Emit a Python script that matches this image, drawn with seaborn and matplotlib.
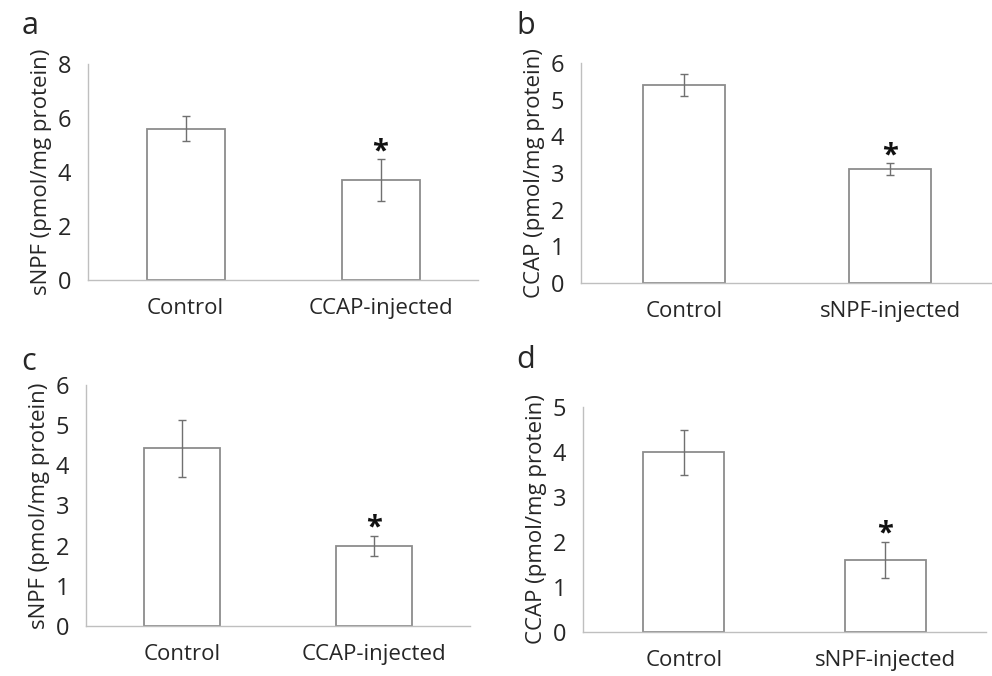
import matplotlib
matplotlib.use("Agg")
import matplotlib.pyplot as plt
import pandas as pd
import seaborn as sns

sns.set_style("white")
plt.rcParams["font.family"] = ["Open Sans", "DejaVu Sans"]

# valori
groups_a = ["Control", "CCAP-injected"]
groups_b = ["Control", "sNPF-injected"]

snpf_a = [5.6, 3.7]
snpf_a_err = [0.47, 0.78]

ccap_b = [5.4, 3.1]
ccap_b_err = [0.3, 0.16]

snpf_c = [4.42, 2.0]
snpf_c_err = [0.7, 0.25]

ccap_d = [4.0, 1.6]
ccap_d_err = [0.5, 0.41]

ylab_snpf = "sNPF (pmol/mg protein)"
ylab_ccap = "CCAP (pmol/mg protein)"

panels = [
    # lettera, gruppi, valori, errori, ylabel, ymax, passo, assi in pixel (x0, x1, ytop, ybottom), lettera in pixel
    ("a", groups_a, snpf_a, snpf_a_err, ylab_snpf, 8, 2, (88, 478, 64, 280), (30, 26)),
    ("b", groups_b, ccap_b, ccap_b_err, ylab_ccap, 6, 1, (581, 993, 63, 283), (526, 26)),
    ("c", groups_a, snpf_c, snpf_c_err, ylab_snpf, 6, 1, (86, 470, 385, 626), (29, 362)),
    ("d", groups_b, ccap_d, ccap_d_err, ylab_ccap, 5, 1, (583, 986, 407, 632), (526, 360)),
]

W, H = 992, 676
fig = plt.figure(figsize=(W / 100, H / 100), dpi=100)

for letter, groups, vals, errs, ylab, ymax, step, (x0, x1, yt, yb), (lx, ly) in panels:
    ax = fig.add_axes([x0 / W, (H - yb) / H, (x1 - x0) / W, (yb - yt) / H])
    df = pd.DataFrame({"group": groups, "value": vals})
    sns.barplot(data=df, x="group", y="value", ax=ax, color="white",
                edgecolor="#8c8c8c", linewidth=1.3, width=0.4, errorbar=None)
    ax.errorbar(range(len(vals)), vals, yerr=errs, fmt="none",
                ecolor="#707070", elinewidth=1.0, capsize=3, capthick=1.0)
    # asterisco sopra il gruppo trattato
    ax.annotate("*", xy=(1, vals[1] + errs[1]), xytext=(0, -5),
                textcoords="offset points", ha="center", va="bottom",
                fontsize=21, fontweight="bold", color="#111111")

    ax.set_xlim(-0.5, 1.5)
    ax.set_ylim(0, ymax)
    ax.set_yticks(range(0, ymax + 1, step))
    ax.set_xticks([-0.5, 0.5, 1.5], minor=True)
    ax.set_xticks([0, 1])
    ax.set_xticklabels(groups, fontsize=16)
    ax.tick_params(axis="x", which="major", length=0, pad=13)
    ax.tick_params(axis="x", which="minor", length=4, color="#bfbfbf", width=1)
    ax.tick_params(axis="y", length=5, color="#bfbfbf", width=1, labelsize=17, pad=7)
    ax.set_xlabel("")
    ax.set_ylabel(ylab, fontsize=16, labelpad=4)

    for side in ["top", "right"]:
        ax.spines[side].set_visible(False)
    for side in ["left", "bottom"]:
        ax.spines[side].set_color("#bfbfbf")
        ax.spines[side].set_linewidth(1)

    fig.text(lx / W, (H - ly) / H, letter, fontsize=22, ha="center", va="center")

fig.savefig("out.png", dpi=100)
